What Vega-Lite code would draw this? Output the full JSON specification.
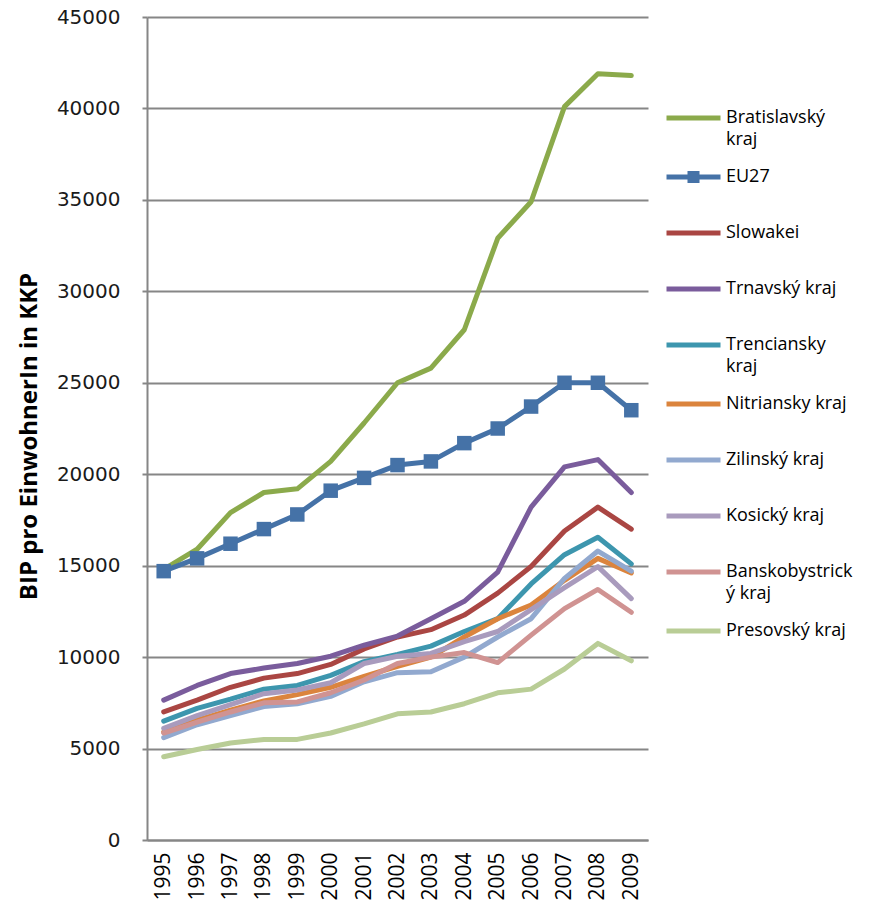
{
  "$schema": "https://vega.github.io/schema/vega-lite/v6.json",
  "width": 501,
  "height": 823,
  "autosize": {"type": "none"},
  "padding": {"left": 147, "top": 17, "right": 224, "bottom": 72},
  "background": "white",
  "config": {"view": {"stroke": null}, "font": "Open Sans"},
  "data": {"values": [
    {"Jahr":"1995","Region":"Bratislavský kraj","BIP":14800},{"Jahr":"1996","Region":"Bratislavský kraj","BIP":15900},{"Jahr":"1997","Region":"Bratislavský kraj","BIP":17900},{"Jahr":"1998","Region":"Bratislavský kraj","BIP":19000},{"Jahr":"1999","Region":"Bratislavský kraj","BIP":19200},{"Jahr":"2000","Region":"Bratislavský kraj","BIP":20700},{"Jahr":"2001","Region":"Bratislavský kraj","BIP":22800},{"Jahr":"2002","Region":"Bratislavský kraj","BIP":25000},{"Jahr":"2003","Region":"Bratislavský kraj","BIP":25800},{"Jahr":"2004","Region":"Bratislavský kraj","BIP":27900},{"Jahr":"2005","Region":"Bratislavský kraj","BIP":32900},{"Jahr":"2006","Region":"Bratislavský kraj","BIP":34900},{"Jahr":"2007","Region":"Bratislavský kraj","BIP":40100},{"Jahr":"2008","Region":"Bratislavský kraj","BIP":41900},{"Jahr":"2009","Region":"Bratislavský kraj","BIP":41800},
    {"Jahr":"1995","Region":"EU27","BIP":14700},{"Jahr":"1996","Region":"EU27","BIP":15400},{"Jahr":"1997","Region":"EU27","BIP":16200},{"Jahr":"1998","Region":"EU27","BIP":17000},{"Jahr":"1999","Region":"EU27","BIP":17800},{"Jahr":"2000","Region":"EU27","BIP":19100},{"Jahr":"2001","Region":"EU27","BIP":19800},{"Jahr":"2002","Region":"EU27","BIP":20500},{"Jahr":"2003","Region":"EU27","BIP":20700},{"Jahr":"2004","Region":"EU27","BIP":21700},{"Jahr":"2005","Region":"EU27","BIP":22500},{"Jahr":"2006","Region":"EU27","BIP":23700},{"Jahr":"2007","Region":"EU27","BIP":25000},{"Jahr":"2008","Region":"EU27","BIP":25000},{"Jahr":"2009","Region":"EU27","BIP":23500},
    {"Jahr":"1995","Region":"Slowakei","BIP":7000},{"Jahr":"1996","Region":"Slowakei","BIP":7650},{"Jahr":"1997","Region":"Slowakei","BIP":8350},{"Jahr":"1998","Region":"Slowakei","BIP":8850},{"Jahr":"1999","Region":"Slowakei","BIP":9100},{"Jahr":"2000","Region":"Slowakei","BIP":9600},{"Jahr":"2001","Region":"Slowakei","BIP":10450},{"Jahr":"2002","Region":"Slowakei","BIP":11100},{"Jahr":"2003","Region":"Slowakei","BIP":11500},{"Jahr":"2004","Region":"Slowakei","BIP":12300},{"Jahr":"2005","Region":"Slowakei","BIP":13500},{"Jahr":"2006","Region":"Slowakei","BIP":14950},{"Jahr":"2007","Region":"Slowakei","BIP":16900},{"Jahr":"2008","Region":"Slowakei","BIP":18200},{"Jahr":"2009","Region":"Slowakei","BIP":17000},
    {"Jahr":"1995","Region":"Trnavský kraj","BIP":7650},{"Jahr":"1996","Region":"Trnavský kraj","BIP":8450},{"Jahr":"1997","Region":"Trnavský kraj","BIP":9100},{"Jahr":"1998","Region":"Trnavský kraj","BIP":9400},{"Jahr":"1999","Region":"Trnavský kraj","BIP":9650},{"Jahr":"2000","Region":"Trnavský kraj","BIP":10050},{"Jahr":"2001","Region":"Trnavský kraj","BIP":10650},{"Jahr":"2002","Region":"Trnavský kraj","BIP":11150},{"Jahr":"2003","Region":"Trnavský kraj","BIP":12100},{"Jahr":"2004","Region":"Trnavský kraj","BIP":13050},{"Jahr":"2005","Region":"Trnavský kraj","BIP":14650},{"Jahr":"2006","Region":"Trnavský kraj","BIP":18200},{"Jahr":"2007","Region":"Trnavský kraj","BIP":20400},{"Jahr":"2008","Region":"Trnavský kraj","BIP":20800},{"Jahr":"2009","Region":"Trnavský kraj","BIP":19000},
    {"Jahr":"1995","Region":"Trenciansky kraj","BIP":6500},{"Jahr":"1996","Region":"Trenciansky kraj","BIP":7200},{"Jahr":"1997","Region":"Trenciansky kraj","BIP":7700},{"Jahr":"1998","Region":"Trenciansky kraj","BIP":8250},{"Jahr":"1999","Region":"Trenciansky kraj","BIP":8450},{"Jahr":"2000","Region":"Trenciansky kraj","BIP":9000},{"Jahr":"2001","Region":"Trenciansky kraj","BIP":9750},{"Jahr":"2002","Region":"Trenciansky kraj","BIP":10150},{"Jahr":"2003","Region":"Trenciansky kraj","BIP":10600},{"Jahr":"2004","Region":"Trenciansky kraj","BIP":11400},{"Jahr":"2005","Region":"Trenciansky kraj","BIP":12100},{"Jahr":"2006","Region":"Trenciansky kraj","BIP":14000},{"Jahr":"2007","Region":"Trenciansky kraj","BIP":15600},{"Jahr":"2008","Region":"Trenciansky kraj","BIP":16550},{"Jahr":"2009","Region":"Trenciansky kraj","BIP":15100},
    {"Jahr":"1995","Region":"Nitriansky kraj","BIP":5900},{"Jahr":"1996","Region":"Nitriansky kraj","BIP":6550},{"Jahr":"1997","Region":"Nitriansky kraj","BIP":7100},{"Jahr":"1998","Region":"Nitriansky kraj","BIP":7600},{"Jahr":"1999","Region":"Nitriansky kraj","BIP":7950},{"Jahr":"2000","Region":"Nitriansky kraj","BIP":8350},{"Jahr":"2001","Region":"Nitriansky kraj","BIP":8950},{"Jahr":"2002","Region":"Nitriansky kraj","BIP":9500},{"Jahr":"2003","Region":"Nitriansky kraj","BIP":10000},{"Jahr":"2004","Region":"Nitriansky kraj","BIP":11100},{"Jahr":"2005","Region":"Nitriansky kraj","BIP":12100},{"Jahr":"2006","Region":"Nitriansky kraj","BIP":12850},{"Jahr":"2007","Region":"Nitriansky kraj","BIP":14200},{"Jahr":"2008","Region":"Nitriansky kraj","BIP":15400},{"Jahr":"2009","Region":"Nitriansky kraj","BIP":14600},
    {"Jahr":"1995","Region":"Zilinský kraj","BIP":5600},{"Jahr":"1996","Region":"Zilinský kraj","BIP":6300},{"Jahr":"1997","Region":"Zilinský kraj","BIP":6800},{"Jahr":"1998","Region":"Zilinský kraj","BIP":7300},{"Jahr":"1999","Region":"Zilinský kraj","BIP":7450},{"Jahr":"2000","Region":"Zilinský kraj","BIP":7850},{"Jahr":"2001","Region":"Zilinský kraj","BIP":8650},{"Jahr":"2002","Region":"Zilinský kraj","BIP":9150},{"Jahr":"2003","Region":"Zilinský kraj","BIP":9200},{"Jahr":"2004","Region":"Zilinský kraj","BIP":10000},{"Jahr":"2005","Region":"Zilinský kraj","BIP":11100},{"Jahr":"2006","Region":"Zilinský kraj","BIP":12100},{"Jahr":"2007","Region":"Zilinský kraj","BIP":14300},{"Jahr":"2008","Region":"Zilinský kraj","BIP":15800},{"Jahr":"2009","Region":"Zilinský kraj","BIP":14700},
    {"Jahr":"1995","Region":"Kosický kraj","BIP":6100},{"Jahr":"1996","Region":"Kosický kraj","BIP":6800},{"Jahr":"1997","Region":"Kosický kraj","BIP":7400},{"Jahr":"1998","Region":"Kosický kraj","BIP":8000},{"Jahr":"1999","Region":"Kosický kraj","BIP":8200},{"Jahr":"2000","Region":"Kosický kraj","BIP":8600},{"Jahr":"2001","Region":"Kosický kraj","BIP":9650},{"Jahr":"2002","Region":"Kosický kraj","BIP":10050},{"Jahr":"2003","Region":"Kosický kraj","BIP":10200},{"Jahr":"2004","Region":"Kosický kraj","BIP":10850},{"Jahr":"2005","Region":"Kosický kraj","BIP":11400},{"Jahr":"2006","Region":"Kosický kraj","BIP":12600},{"Jahr":"2007","Region":"Kosický kraj","BIP":13800},{"Jahr":"2008","Region":"Kosický kraj","BIP":14950},{"Jahr":"2009","Region":"Kosický kraj","BIP":13200},
    {"Jahr":"1995","Region":"Banskobystrický kraj","BIP":5850},{"Jahr":"1996","Region":"Banskobystrický kraj","BIP":6450},{"Jahr":"1997","Region":"Banskobystrický kraj","BIP":7000},{"Jahr":"1998","Region":"Banskobystrický kraj","BIP":7500},{"Jahr":"1999","Region":"Banskobystrický kraj","BIP":7550},{"Jahr":"2000","Region":"Banskobystrický kraj","BIP":8050},{"Jahr":"2001","Region":"Banskobystrický kraj","BIP":8750},{"Jahr":"2002","Region":"Banskobystrický kraj","BIP":9650},{"Jahr":"2003","Region":"Banskobystrický kraj","BIP":10000},{"Jahr":"2004","Region":"Banskobystrický kraj","BIP":10250},{"Jahr":"2005","Region":"Banskobystrický kraj","BIP":9700},{"Jahr":"2006","Region":"Banskobystrický kraj","BIP":11200},{"Jahr":"2007","Region":"Banskobystrický kraj","BIP":12650},{"Jahr":"2008","Region":"Banskobystrický kraj","BIP":13700},{"Jahr":"2009","Region":"Banskobystrický kraj","BIP":12450},
    {"Jahr":"1995","Region":"Presovský kraj","BIP":4550},{"Jahr":"1996","Region":"Presovský kraj","BIP":4950},{"Jahr":"1997","Region":"Presovský kraj","BIP":5300},{"Jahr":"1998","Region":"Presovský kraj","BIP":5500},{"Jahr":"1999","Region":"Presovský kraj","BIP":5500},{"Jahr":"2000","Region":"Presovský kraj","BIP":5850},{"Jahr":"2001","Region":"Presovský kraj","BIP":6350},{"Jahr":"2002","Region":"Presovský kraj","BIP":6900},{"Jahr":"2003","Region":"Presovský kraj","BIP":7000},{"Jahr":"2004","Region":"Presovský kraj","BIP":7450},{"Jahr":"2005","Region":"Presovský kraj","BIP":8050},{"Jahr":"2006","Region":"Presovský kraj","BIP":8250},{"Jahr":"2007","Region":"Presovský kraj","BIP":9350},{"Jahr":"2008","Region":"Presovský kraj","BIP":10750},{"Jahr":"2009","Region":"Presovský kraj","BIP":9800}
  ]},
  "layer": [
    {
      "mark": {"type": "line", "strokeWidth": 5, "strokeJoin": "round", "strokeCap": "round"},
      "encoding": {
        "x": {"field": "Jahr", "type": "ordinal", "scale": {"type": "point", "padding": 0.5},
          "axis": {"title": null, "labelAngle": -90, "labelFont": "Open Sans", "labelFontSize": 21, "labelColor": "#000000", "ticks": false, "grid": false, "domainColor": "#868686", "domainWidth": 2, "labelPadding": 12}},
        "y": {"field": "BIP", "type": "quantitative", "scale": {"domain": [0, 45000], "nice": false},
          "axis": {"title": "BIP pro EinwohnerIn in KKP", "titleFont": "Open Sans", "titleFontWeight": "bold", "titleFontSize": 24, "titleColor": "#000000", "titleX": -118, "titleY": 419, "titleAngle": -90, "titleAlign": "center", "titleBaseline": "middle",
            "values": [0, 5000, 10000, 15000, 20000, 25000, 30000, 35000, 40000, 45000], "format": "d",
            "labelFont": "DejaVu Sans", "labelFontSize": 20, "labelColor": "#1a1a1a", "labelPadding": 22,
            "tickSize": 5, "tickColor": "#868686", "tickWidth": 2, "grid": true, "gridColor": "#868686", "gridWidth": 2, "domainColor": "#868686", "domainWidth": 2}},
        "color": {"field": "Region", "type": "nominal",
          "scale": {"domain": ["Bratislavský kraj", "EU27", "Slowakei", "Trnavský kraj", "Trenciansky kraj", "Nitriansky kraj", "Zilinský kraj", "Kosický kraj", "Banskobystrický kraj", "Presovský kraj"],
                    "range": ["#8BAA4B", "#4572A7", "#AA4643", "#7A5C9C", "#3D96AE", "#DB843D", "#92A9CF", "#A99BBD", "#D09392", "#B9CD96"]},
          "legend": {"title": null, "orient": "none", "legendX": 517, "legendY": 73, "padding": 0,
            "symbolType": "stroke", "symbolSize": 2916, "symbolStrokeWidth": 5,
            "labelFont": "Open Sans", "labelFontSize": 18, "labelColor": "#000000", "labelOffset": 3, "labelLimit": 300, "rowPadding": 0, "clipHeight": 56,
            "labelExpr": "datum.label === 'Bratislavský kraj' ? ['Bratislavský', 'kraj'] : datum.label === 'Trenciansky kraj' ? ['Trenciansky', 'kraj'] : datum.label === 'Banskobystrický kraj' ? ['Banskobystrick', 'ý kraj'] : datum.label",
            "encode": {
              "labels": {"update": {"lineHeight": {"value": 22}}},
              "symbols": {"update": {
                "shape": {"signal": "datum.value === 'EU27' ? 'M-1,0L1,0M-0.13,-0.13L0.13,-0.13L0.13,0.13L-0.13,0.13Z' : 'stroke'"},
                "fill": {"signal": "datum.value === 'EU27' ? '#4572A7' : 'transparent'"}
              }}
            }
          }
        }
      }
    },
    {
      "transform": [{"filter": "datum.Region === 'EU27'"}],
      "mark": {"type": "point", "shape": "square", "filled": true, "size": 210, "opacity": 1},
      "encoding": {
        "x": {"field": "Jahr", "type": "ordinal"},
        "y": {"field": "BIP", "type": "quantitative"},
        "color": {"value": "#4572A7"}
      }
    }
  ]
}
